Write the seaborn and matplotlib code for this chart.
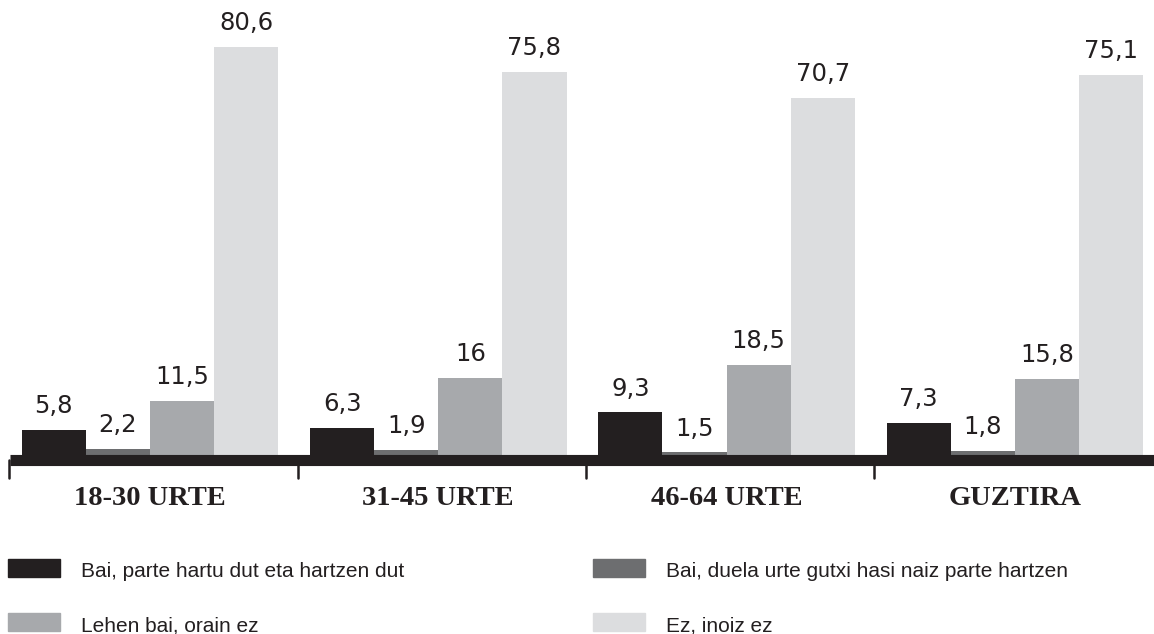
import matplotlib
matplotlib.use("Agg")
import matplotlib.pyplot as plt
from matplotlib.patches import Rectangle
import pandas as pd
import seaborn as sns

groups = ["18-30 URTE", "31-45 URTE", "46-64 URTE", "GUZTIRA"]
series = [
    "Bai, parte hartu dut eta hartzen dut",
    "Bai, duela urte gutxi hasi naiz parte hartzen",
    "Lehen bai, orain ez",
    "Ez, inoiz ez",
]
bai_parte = [5.8, 6.3, 9.3, 7.3]
bai_duela = [2.2, 1.9, 1.5, 1.8]
lehen_bai = [11.5, 16.0, 18.5, 15.8]
inoiz_ez = [80.6, 75.8, 70.7, 75.1]
colors = ["#231f20", "#6d6e70", "#a7a9ac", "#dcdddf"]

rows = []
for name, vals in zip(series, [bai_parte, bai_duela, lehen_bai, inoiz_ez]):
    for g, v in zip(groups, vals):
        rows.append({"group": g, "series": name, "value": v})
df = pd.DataFrame(rows)

sns.set_theme(style="white")
plt.rcParams["font.family"] = ["DejaVu Sans"]

W, H = 1154, 634
fig = plt.figure(figsize=(W / 100, H / 100), dpi=100)
ax = fig.add_axes([5.9 / W, (H - 460) / H, 1153 / W, 460 / H])

sns.barplot(data=df, x="group", y="value", hue="series", order=groups,
            hue_order=series, palette=colors, width=0.89, dodge=True,
            saturation=1, legend=False, linewidth=0, ax=ax, zorder=2)

ax.set_xlim(-0.5, 3.5)
ax.set_ylim(0, 89.8)
for s in ax.spines.values():
    s.set_visible(False)
ax.set_yticks([])
ax.set_xlabel("")
ax.set_ylabel("")

# value labels above bars
for cont in ax.containers:
    labels = [f"{b.get_height():g}".replace(".", ",") for b in cont]
    ax.bar_label(cont, labels=labels, padding=8.5, fontsize=17.5,
                 color="#231f20", fontfamily="DejaVu Sans")

# thick baseline and separator ticks
ax.plot([-0.486, 3.6], [0, 0], color="#231f20", lw=8, solid_capstyle="butt",
        clip_on=False, zorder=3)
for i in range(4):
    ax.plot([i - 0.488, i - 0.488], [0, -3.5], color="#231f20", lw=1.8,
            clip_on=False, zorder=3)

ax.tick_params(axis="x", length=0, pad=18.5)
ax.set_xticks(range(4))
ax.set_xticklabels(groups, fontfamily="Liberation Serif", fontweight="bold",
                   fontsize=20.5, color="#231f20")

# legend
leg_items = [
    (8, 559, 0), (593, 559, 1),
    (8, 613, 2), (593, 613, 3),
]
for x0, y0, k in leg_items:
    fig.add_artist(Rectangle((x0 / W, 1 - (y0 + 18) / H), 52 / W, 18 / H,
                             transform=fig.transFigure, color=colors[k]))
    fig.text((x0 + 73) / W, 1 - (y0 + 18) / H, series[k], ha="left",
             va="baseline", fontsize=15, fontfamily="Liberation Sans",
             color="#231f20")

fig.savefig("out.png", dpi=100, facecolor="white")
